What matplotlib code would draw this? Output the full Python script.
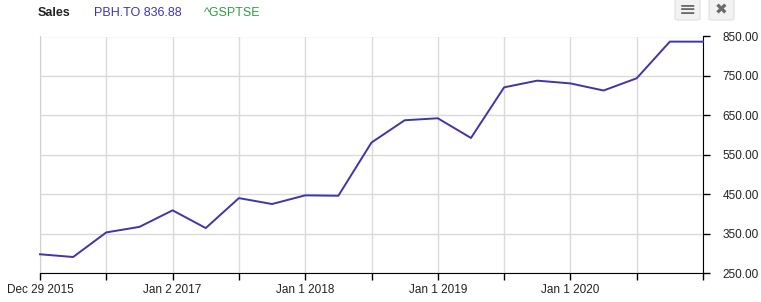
import matplotlib
matplotlib.use('Agg')
import matplotlib.pyplot as plt
from matplotlib.patches import FancyBboxPatch

plt.rcParams['font.family'] = ['Liberation Sans', 'DejaVu Sans']

# Quarterly sales values (index 0 = Dec 29 2015, last = Dec 2020)
sales = [297.5, 290.6, 353, 367, 409, 364, 440, 425, 447, 446, 581,
         637.5, 642.6, 592.6, 721, 738, 731, 713, 744, 837, 836.88]
tick_labels = ['Dec 29 2015', '', 'Jan 2 2017', '', 'Jan 1 2018', '',
               'Jan 1 2019', '', 'Jan 1 2020', '', '']
y_ticks = [250, 350, 450, 550, 650, 750, 850]

W, H = 761, 302
fig = plt.figure(figsize=(W / 100, H / 100), dpi=100)
ax = fig.add_axes([40 / W, 1 - 273 / H, (703 - 40) / W, (273 - 36.5) / H])

x = list(range(len(sales)))
ax.plot(x, sales, color='#3f35aa', linewidth=1.4, zorder=3, clip_on=False)

ax.set_xlim(0, len(sales) - 1)
ax.set_ylim(250, 850)
ax.set_xticks(range(0, len(sales), 2))
ax.set_xticklabels(tick_labels)
ax.set_yticks(y_ticks)
ax.set_yticklabels([f'{v:.2f}' for v in y_ticks])
ax.yaxis.tick_right()

ax.grid(True, color='#dadada', linewidth=1)
ax.set_axisbelow(True)
ax.spines['top'].set_visible(False)
ax.spines['left'].set_color('#d0d0d0')
ax.spines['right'].set_color('black')
ax.spines['bottom'].set_color('black')
ax.tick_params(axis='both', colors='black', labelsize=8.5, length=5, width=1)
ax.tick_params(axis='y', pad=9, labelcolor='#222222')
ax.tick_params(axis='x', pad=3, labelcolor='#222222')

# header
fig.text(38 / W, 1 - 13 / H, 'Sales', fontsize=9, fontweight='bold', color='#222222', va='center')
fig.text(94 / W, 1 - 13 / H, 'PBH.TO 836.88', fontsize=9, color='#3f35aa', va='center')
fig.text(204 / W, 1 - 13 / H, '^GSPTSE', fontsize=9, color='#2e9e4a', va='center')

# toolbar buttons
for x0, sym, fs in [(675, '\u2261', 15), (709, '\u2716', 11)]:
    box = FancyBboxPatch((x0 / W, 1 - 20 / H), 25 / W, 23 / H,
                         boxstyle='round,pad=0,rounding_size=0.004',
                         transform=fig.transFigure, facecolor='#f2f2f2',
                         edgecolor='#e0e0e0', linewidth=0.8)
    fig.patches.append(box)
    fig.text((x0 + 12.5) / W, 1 - 9.5 / H, sym, fontsize=fs,
             color='#6a6a6a', ha='center', va='center', family='DejaVu Sans')

fig.savefig('out.png', dpi=100)
